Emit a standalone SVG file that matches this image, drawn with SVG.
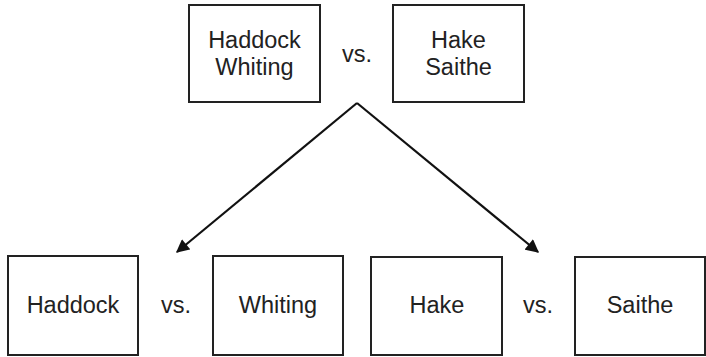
<svg xmlns="http://www.w3.org/2000/svg" width="706" height="357" viewBox="0 0 706 357">
<defs>
<style>
.box{fill:#fff;stroke:#222;stroke-width:2}
.t{font-family:"Liberation Sans",Arial,sans-serif;font-size:23.5px;fill:#222;text-anchor:middle}
.c{fill:none;stroke:#111;stroke-width:2.2}
</style>
<marker id="ah" viewBox="0 0 10 10" refX="9" refY="5" markerWidth="6.5" markerHeight="6" orient="auto" markerUnits="strokeWidth">
<path d="M0,0 L10,5 L0,10 z" fill="#111"/>
</marker>
</defs>
<rect width="706" height="357" fill="#fff"/>
<g id="top-left"><rect class="box" x="189" y="5" width="131" height="97"/><text class="t" x="254.5" y="48">Haddock</text><text class="t" x="254.5" y="75">Whiting</text></g>
<g id="top-vs"><text class="t" x="357" y="62">vs.</text></g>
<g id="top-right"><rect class="box" x="393" y="5" width="131" height="97"/><text class="t" x="458.5" y="48">Hake</text><text class="t" x="458.5" y="75">Saithe</text></g>
<g id="haddock"><rect class="box" x="8" y="256" width="130" height="99"/><text class="t" x="73" y="313">Haddock</text></g>
<g id="vs-left"><text class="t" x="176" y="313">vs.</text></g>
<g id="whiting"><rect class="box" x="213" y="256" width="130" height="99"/><text class="t" x="278" y="313">Whiting</text></g>
<g id="hake"><rect class="box" x="371" y="257" width="131" height="98"/><text class="t" x="437" y="313">Hake</text></g>
<g id="vs-right"><text class="t" x="538" y="313">vs.</text></g>
<g id="saithe"><rect class="box" x="575" y="257" width="130" height="98"/><text class="t" x="640" y="313">Saithe</text></g>
<g id="connectors">
<path class="c" d="M357,103 L177,252" marker-end="url(#ah)"/>
<path class="c" d="M357,103 L538,252" marker-end="url(#ah)"/>
</g>
</svg>
